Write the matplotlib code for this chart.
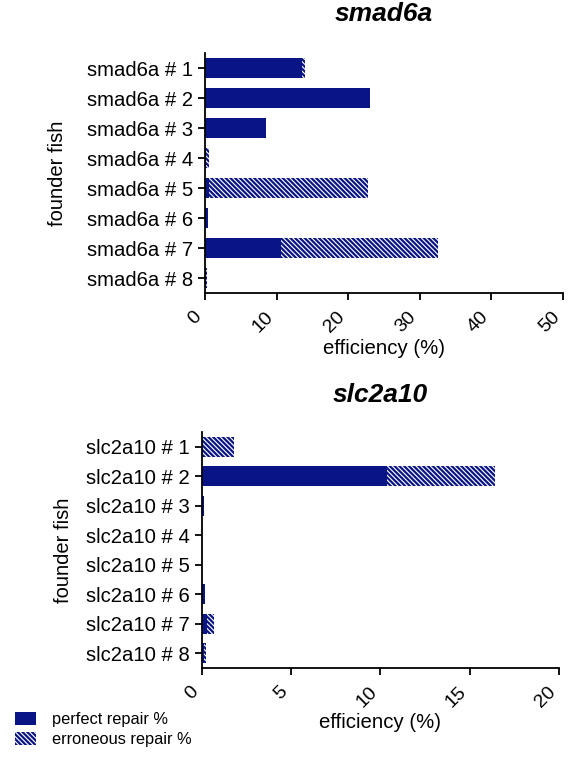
import matplotlib
matplotlib.use("Agg")
import matplotlib.pyplot as plt
from matplotlib.patches import Patch

plt.rcParams['font.family'] = ['Liberation Sans', 'DejaVu Sans']
plt.rcParams['hatch.linewidth'] = 1.6

NAVY = '#0a1585'
HATCH = '\\' * 7

smad_labels = ["smad6a # %d" % i for i in range(1, 9)]
smad_perfect = [13.6, 23.0, 8.5, 0.2, 0.6, 0.45, 10.6, 0.15]
smad_error = [0.3, 0.0, 0.0, 0.3, 22.2, 0.0, 21.9, 0.1]
smad_ticks = [0, 10, 20, 30, 40, 50]

slc_labels = ["slc2a10 # %d" % i for i in range(1, 9)]
slc_perfect = [0.0, 10.35, 0.15, 0.0, 0.02, 0.18, 0.28, 0.12]
slc_error = [1.82, 6.05, 0.0, 0.0, 0.0, 0.0, 0.41, 0.1]
slc_ticks = [0, 5, 10, 15, 20]

fig = plt.figure(figsize=(5.73, 7.62), dpi=100)
W, H = 573.0, 762.0


def panel(rect, labels, perfect, error, ticks, title, title_y, ylab_x):
    ax = fig.add_axes(rect)
    y = list(range(1, len(labels) + 1))
    ax.barh(y, perfect, height=0.67, color=NAVY, linewidth=0)
    ax.barh(y, error, left=perfect, height=0.67, facecolor='white',
            edgecolor=NAVY, hatch=HATCH, linewidth=0)
    ax.set_ylim(len(labels) + 0.5, 0.5)
    ax.set_xlim(ticks[0], ticks[-1])
    ax.set_yticks(y)
    ax.set_yticklabels(labels, fontsize=14.6)
    ax.set_xticks(ticks)
    ax.set_xticklabels([str(t) for t in ticks], fontsize=14, rotation=45,
                       ha='right', va='top')
    for s in ['top', 'right']:
        ax.spines[s].set_visible(False)
    for s in ['left', 'bottom']:
        ax.spines[s].set_linewidth(1.3)
    ax.tick_params(axis='both', direction='out', length=5, width=1.3)
    ax.tick_params(axis='x', pad=6)
    ax.set_xlabel('efficiency (%)', fontsize=14.7, labelpad=2)
    ax.set_ylabel('founder fish', fontsize=14.5)
    ax.yaxis.set_label_coords(ylab_x, 0.5)
    fig.text(rect[0] + rect[2] / 2, title_y, title, fontsize=19,
             fontweight='bold', fontstyle='italic', ha='center', va='center')
    return ax


panel([205 / W, 1 - 293 / H, 358 / W, 240 / H], smad_labels, smad_perfect,
      smad_error, smad_ticks, 'smad6a', 1 - 14 / H, -0.385)
panel([201.7 / W, 1 - 668 / H, 357.3 / W, 236 / H], slc_labels, slc_perfect,
      slc_error, slc_ticks, 'slc2a10', 1 - 395 / H, -0.36)

handles = [Patch(facecolor=NAVY, edgecolor='none'),
           Patch(facecolor='white', edgecolor=NAVY, hatch=HATCH, linewidth=0)]
fig.legend(handles, ['perfect repair %', 'erroneous repair %'],
           loc='lower left', bbox_to_anchor=(0.0, 0.0), frameon=False,
           fontsize=11.8, handlelength=1.3, handleheight=0.8,
           handletextpad=1.0, labelspacing=0.3)

fig.savefig('out.png', dpi=100)
